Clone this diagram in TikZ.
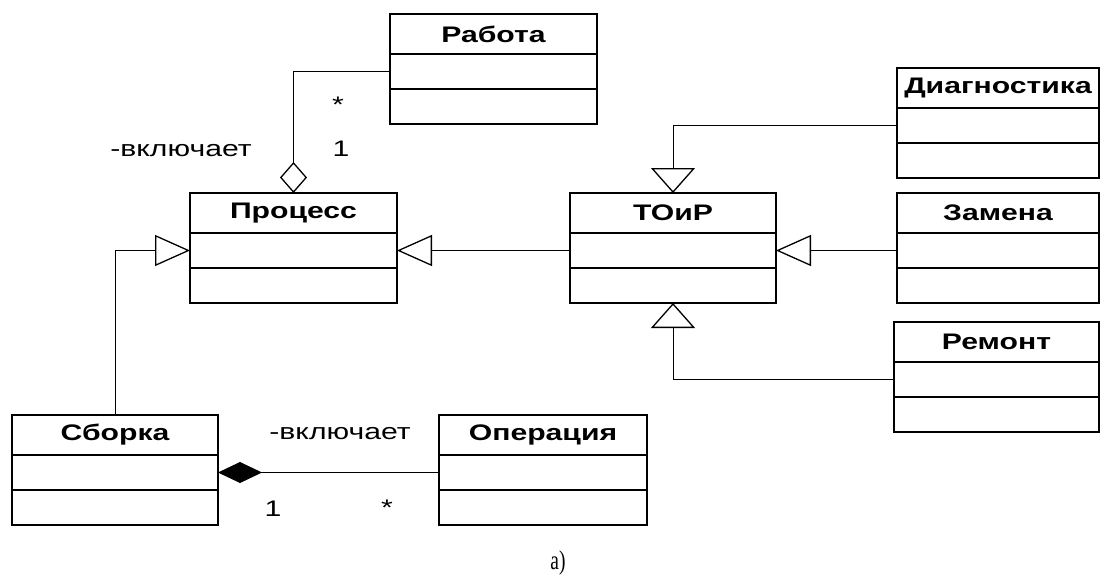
\documentclass[tikz,border=0pt]{standalone}
\usepackage{fontspec}
\usetikzlibrary{arrows.meta,positioning}
\newfontfamily\umlfont[FakeStretch=1.34]{Liberation Sans}
\newfontfamily\capfont[FakeStretch=0.72]{Liberation Serif}

\begin{document}
\begin{tikzpicture}[x=1pt,y=-1pt,line width=1pt,
	every node/.style={font=\umlfont\fontsize{22.5}{26}\selectfont},
	classhead/.style={draw,line width=2.2pt,anchor=north west,minimum width=#1,minimum height=40pt,inner sep=0pt,outer sep=0pt,font=\umlfont\bfseries\fontsize{22.5}{26}\selectfont},
	classpart/.style={draw,line width=2.2pt,minimum width=#1,minimum height=35pt,inner sep=0pt,outer sep=0pt},
	gen/.style={-{Triangle[open,line width=1.3pt,length=35pt,width=31pt]}},
	genv/.style={-{Triangle[open,line width=1.3pt,length=25pt,width=44pt]}},
	aggr/.style={-{Diamond[open,line width=1.3pt,length=31pt,width=27pt]}},
	comp/.style={-{Diamond[length=44pt,width=21pt]}}]
	\useasboundingbox (0,0) rectangle (1102,575);

	\node[classhead=207pt] (rabota) at (390,14) {Работа};
	\node[classpart=207pt, below=0pt of rabota] (rabota-a) {};
	\node[classpart=207pt, below=0pt of rabota-a] (rabota-b) {};

	\node[classhead=207pt] (process) at (190,193) {Процесс};
	\node[classpart=207pt, below=0pt of process] (process-a) {};
	\node[classpart=207pt, below=0pt of process-a] (process-b) {};

	\node[classhead=206pt] (toir) at (570,193) {ТОиР};
	\node[classpart=206pt, below=0pt of toir] (toir-a) {};
	\node[classpart=206pt, below=0pt of toir-a] (toir-b) {};

	\node[classhead=202pt] (diag) at (897,68) {Диагностика};
	\node[classpart=202pt, below=0pt of diag] (diag-a) {};
	\node[classpart=202pt, below=0pt of diag-a] (diag-b) {};

	\node[classhead=202pt] (zamena) at (897,193) {Замена};
	\node[classpart=202pt, below=0pt of zamena] (zamena-a) {};
	\node[classpart=202pt, below=0pt of zamena-a] (zamena-b) {};

	\node[classhead=205pt] (remont) at (894,322) {Ремонт};
	\node[classpart=205pt, below=0pt of remont] (remont-a) {};
	\node[classpart=205pt, below=0pt of remont-a] (remont-b) {};

	\node[classhead=206pt] (sborka) at (12,415) {Сборка};
	\node[classpart=206pt, below=0pt of sborka] (sborka-a) {};
	\node[classpart=206pt, below=0pt of sborka-a] (sborka-b) {};

	\node[classhead=208pt] (oper) at (439,415) {Операция};
	\node[classpart=208pt, below=0pt of oper] (oper-a) {};
	\node[classpart=208pt, below=0pt of oper-a] (oper-b) {};

	% roles and multiplicities
	\node[anchor=base] (incl1) at (181,156) {-включает};
	\node[anchor=base] (mult1) at (338,113) {*};
	\node[anchor=base] (mult2) at (341,156) {1};
	\node[anchor=base] (incl2) at (340,439) {-включает};
	\node[anchor=base] (mult3) at (273,516) {1};
	\node[anchor=base] (mult4) at (387,515) {*};
	\node[anchor=base,font=\capfont\fontsize{27}{30}\selectfont] (caption) at (558,569) {а)};

	\draw[aggr] (rabota-a.west) -| (process.north);
	\draw[gen] (sborka.north) |- (process-a.west);
	\draw[gen] (toir-a.west) -- (process-a.east);
	\draw[genv] (diag-a.west) -| (toir.north);
	\draw[gen] (zamena-a.west) -- (toir-a.east);
	\draw[genv] (remont-a.west) -| (toir-b.south);
	\draw[comp] (oper-a.west) -- (sborka-a.east);
\end{tikzpicture}
\end{document}
